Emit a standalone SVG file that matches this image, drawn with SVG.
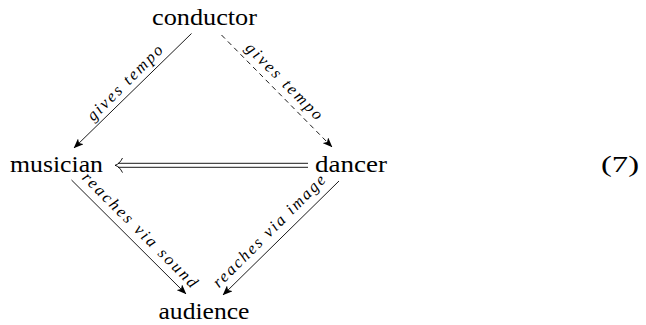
<svg xmlns="http://www.w3.org/2000/svg" width="646" height="325" viewBox="0 0 646 325">
<defs>
<marker id="ah" viewBox="0 0 10 8" refX="9.5" refY="4" markerWidth="10" markerHeight="8" markerUnits="userSpaceOnUse" orient="auto">
<path d="M0,0 L10,4 L0,8 L2.5,4 Z" fill="#000"/>
</marker>
</defs>
<style>
.node{font-family:"Liberation Serif",serif;font-size:23px;fill:#000}
.lbl{font-family:"Liberation Serif",serif;font-style:italic;font-size:16.5px;fill:#000}
.edge{stroke:#000;stroke-width:0.9;fill:none}
.arr{marker-end:url(#ah)}
.dash{stroke-dasharray:5 4}
</style>
<rect width="646" height="325" fill="#fff"/>
<g id="conductor"><text class="node" x="204.5" y="25" text-anchor="middle" textLength="105" lengthAdjust="spacingAndGlyphs">conductor</text></g>
<g id="musician"><text class="node" x="56.5" y="172" text-anchor="middle" textLength="93" lengthAdjust="spacingAndGlyphs">musician</text></g>
<g id="dancer"><text class="node" x="351" y="172" text-anchor="middle" textLength="72" lengthAdjust="spacingAndGlyphs">dancer</text></g>
<g id="audience"><text class="node" x="204" y="319" text-anchor="middle" textLength="91" lengthAdjust="spacingAndGlyphs">audience</text></g>
<g id="eqnum"><text class="node" x="620" y="172" text-anchor="middle" textLength="38" lengthAdjust="spacingAndGlyphs">(7)</text></g>
<g id="connectors">
<line class="edge arr" x1="191.5" y1="33.5" x2="74" y2="148"/>
<line class="edge arr dash" x1="221.5" y1="35" x2="332" y2="147"/>
<line class="edge" x1="118" y1="163.3" x2="308" y2="163.3"/>
<line class="edge" x1="118" y1="167.3" x2="308" y2="167.3"/>
<path class="edge" d="M122.5,158 C120.5,162 118,164.6 115,165.3 C118,166 120.5,168.6 122.5,172.6"/>
<line class="edge arr" x1="71.5" y1="180" x2="186" y2="294"/>
<line class="edge arr" x1="339" y1="181" x2="223" y2="295"/>
<text class="lbl" text-anchor="middle" textLength="100" lengthAdjust="spacing" transform="translate(128.5,86.5) rotate(-45)">gives tempo</text>
<text class="lbl" text-anchor="middle" textLength="102" lengthAdjust="spacing" transform="translate(280.6,84.8) rotate(45)">gives tempo</text>
<text class="lbl" text-anchor="middle" textLength="156" lengthAdjust="spacing" transform="translate(136.3,233.7) rotate(45)">reaches via sound</text>
<text class="lbl" text-anchor="middle" textLength="152" lengthAdjust="spacing" transform="translate(272.8,234.8) rotate(-45)">reaches via image</text>
</g>
</svg>
